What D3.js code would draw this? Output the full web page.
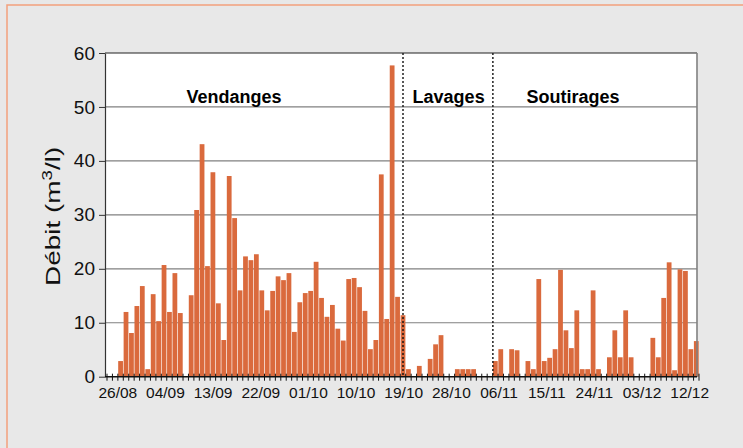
<!DOCTYPE html>
<html>
<head>
<meta charset="utf-8">
<script src="https://cdn.jsdelivr.net/npm/d3@7"></script>
<style>
  body { margin: 0; background: #e8e8e8; }
  text { font-family: "Liberation Sans", Arial, sans-serif; }
</style>
</head>
<body>
<div id="vis-container"></div>
<script>
// daily flow (m3/l), one value per day slot
const debit = [
  0, 0, 2.9, 12.0, 8.1, 13.1, 16.8, 1.4, 15.3, 10.3,
  20.7, 12.0, 19.2, 11.8, 0, 15.1, 30.9, 43.1, 20.5, 37.9,
  13.6, 6.8, 37.2, 29.4, 16.0, 22.3, 21.6, 22.7, 16.0, 12.3,
  15.9, 18.6, 17.9, 19.2, 8.3, 13.8, 15.5, 15.9, 21.3, 14.6,
  11.1, 13.3, 8.9, 6.7, 18.1, 18.3, 16.6, 12.2, 5.1, 6.8,
  37.5, 10.7, 57.7, 14.8, 11.4, 1.4, 0, 2.0, 0, 3.3,
  6.0, 7.7, 0, 0, 1.4, 1.4, 1.4, 1.4, 0, 0,
  0, 2.9, 5.1, 0, 5.1, 4.9, 0, 2.9, 1.4, 18.1,
  2.9, 3.5, 5.1, 19.8, 8.6, 5.3, 12.3, 1.4, 1.4, 16.0,
  1.4, 0, 3.6, 8.6, 3.6, 12.3, 3.6, 0, 0, 0,
  7.2, 3.6, 14.6, 21.2, 1.2, 19.9, 19.6, 5.1, 6.6
];

// date labels, every 9 days
const tickLabels = ["26/08", "04/09", "13/09", "22/09", "01/10", "10/10", "19/10",
                    "28/10", "06/11", "15/11", "24/11", "03/12", "12/12"];

const yTicks = [0, 10, 20, 30, 40, 50, 60];

// phases of the season
const phases = ["Vendanges", "Lavages", "Soutirages"];

const margin = {top: 53, right: 46, bottom: 71.3, left: 105};
const width = 743 - margin.left - margin.right;
const height = 448 - margin.top - margin.bottom;

const root = d3.select("#vis-container")
  .append("svg")
    .attr("width", 743)
    .attr("height", 448);

// orange frame (only top and left edges are visible)
root.append("rect")
  .attr("x", 7).attr("y", 5)
  .attr("width", 800).attr("height", 500)
  .attr("fill", "#e8e8e8")
  .attr("stroke", "#f2a07c")
  .attr("stroke-width", 1.5);

const svg = root.append("g")
  .attr("transform", `translate(${margin.left}, ${margin.top})`);

svg.append("rect")
  .attr("width", width).attr("height", height)
  .attr("fill", "#fff");

// scales
const x = d3.scaleBand()
  .domain(d3.range(debit.length))
  .range([2, width + 2])
  .paddingInner(0.12)
  .paddingOuter(0.06);

const step = x.step();
const slot = s => 2 + s * step;

const y = d3.scaleLinear()
  .domain([0, 60])
  .range([height, 0]);

// gridlines
svg.selectAll(".grid")
  .data(yTicks.filter(d => d > 0 && d < 60))
  .enter()
    .append("line")
    .attr("x1", 0).attr("x2", width)
    .attr("y1", d => y(d)).attr("y2", d => y(d))
    .attr("stroke", "#808080")
    .attr("stroke-width", 1.2);

// bars
svg.selectAll(".bar")
  .data(debit)
  .enter()
    .append("rect")
    .attr("x", (d, i) => x(i))
    .attr("y", d => y(d))
    .attr("width", x.bandwidth())
    .attr("height", d => height - y(d))
    .attr("fill", "#da6a3d");

// phase dividers (dotted)
svg.selectAll(".divider")
  .data([54.5, 71.05])
  .enter()
    .append("line")
    .attr("x1", d => slot(d)).attr("x2", d => slot(d))
    .attr("y1", 0).attr("y2", height)
    .attr("stroke", "#111")
    .attr("stroke-width", 1.4)
    .attr("stroke-dasharray", "2,2");

// phase labels
const phaseAt = [23.4, 62.9, 85.8];
svg.selectAll(".phase")
  .data(phases)
  .enter()
    .append("text")
    .attr("x", (d, i) => slot(phaseAt[i]))
    .attr("y", y(60) + 50)
    .attr("text-anchor", "middle")
    .style("font-size", "18px")
    .style("font-weight", "bold")
    .text(d => d);

// frame: top dark, right grey
svg.append("line")
  .attr("x1", 0).attr("x2", width)
  .attr("y1", 0).attr("y2", 0)
  .attr("stroke", "#222").attr("stroke-width", 1.2);
svg.append("line")
  .attr("x1", width).attr("x2", width)
  .attr("y1", 0).attr("y2", height)
  .attr("stroke", "#808080").attr("stroke-width", 1.6);

// y axis
const yAxis = svg.append("g")
  .call(d3.axisLeft(y).tickValues(yTicks).tickSize(6).tickPadding(4).tickSizeOuter(0));
yAxis.select(".domain").attr("stroke", "#333").attr("stroke-width", 1.2);
yAxis.selectAll(".tick line").attr("stroke", "#333");
yAxis.selectAll("text")
  .style("font-size", "19px")
  .attr("fill", "#111");

// x axis: line, one tick per day slot, labels every 9 days
svg.append("line")
  .attr("x1", 0).attr("x2", width)
  .attr("y1", height).attr("y2", height)
  .attr("stroke", "#111").attr("stroke-width", 1.4);

svg.selectAll(".xtick")
  .data(d3.range(debit.length + 1))
  .enter()
    .append("line")
    .attr("x1", d => slot(d)).attr("x2", d => slot(d))
    .attr("y1", height - 3).attr("y2", height + 4)
    .attr("stroke", "#111")
    .attr("stroke-width", 1);

const labelX = d3.scaleLinear()
  .domain([0, tickLabels.length - 1])
  .range([12.8, 584.7]);

svg.selectAll(".xlabel")
  .data(tickLabels)
  .enter()
    .append("text")
    .attr("x", (d, i) => labelX(i))
    .attr("y", height + 21.5)
    .attr("text-anchor", "middle")
    .style("font-size", "15.5px")
    .attr("fill", "#111")
    .text(d => d);

// y axis title (stretched along its length like in the source)
const yTitle = root.append("text")
  .attr("transform", `translate(60, ${margin.top + height / 2 + 1.5}) rotate(-90) scale(1.33, 1)`)
  .attr("text-anchor", "middle")
  .style("font-size", "21px")
  .attr("fill", "#111");
yTitle.append("tspan").text("Débit (m");
yTitle.append("tspan").attr("dy", -8).style("font-size", "14px").text("3");
yTitle.append("tspan").attr("dy", 8).text("/l)");
</script>
</body>
</html>
